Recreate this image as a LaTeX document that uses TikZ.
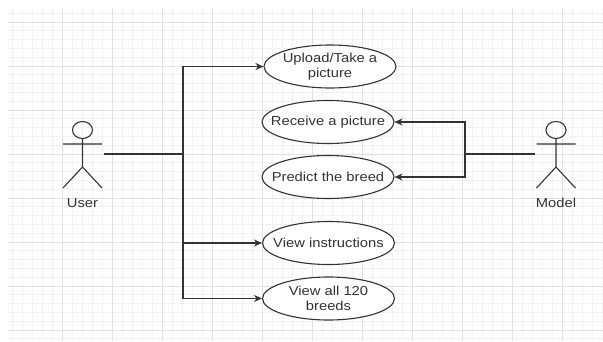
\documentclass[tikz,border=0pt]{standalone}
\usepackage{fontspec}
\setmainfont{Liberation Sans}[FakeStretch=1.136]
\usetikzlibrary{arrows.meta,shapes.geometric}
\definecolor{ink}{HTML}{333333}
\definecolor{gridmaj}{HTML}{E2E2E2}
\definecolor{gridmin}{HTML}{F3F3F3}
\begin{document}
\begin{tikzpicture}[x=1pt,y=-1pt,every node/.style={font=\fontsize{13}{15}\selectfont,text=ink},
 uc/.style={draw=ink,line width=1.1pt,ellipse,fill=white,minimum width=132pt,minimum height=43pt,inner xsep=-15pt,inner ysep=0pt,align=center},
 actor/.style={minimum width=42pt,minimum height=70pt,inner sep=0pt,
  path picture={\begin{scope}[shift={(path picture bounding box.center)},draw=ink,line width=1.1pt]
   \draw (0,-24) ellipse [x radius=10,y radius=8.5];
   \draw (0,-15.5)--(0,13) (-19.5,-10)--(19.5,-10) (-19.5,34)--(0,13)--(19.5,34);
  \end{scope}}},
 arr/.style={-{Stealth[length=8pt,width=7pt]},draw=ink,line width=1.3pt},
 ln/.style={draw=ink,line width=1.3pt}]
\useasboundingbox (0,0) rectangle (603,341);
\foreach \x in {12,22,...,602} \draw[gridmin,line width=0.8pt] (\x,8)--(\x,341);
\foreach \y in {13.2,22,...,341} \draw[gridmin,line width=0.8pt] (8,\y)--(603,\y);
\foreach \x in {62,112,...,562} \draw[gridmaj,line width=1pt] (\x,8)--(\x,341);
\foreach \y in {22,66,...,330} \draw[gridmaj,line width=1pt] (8,\y)--(603,\y);
\node[actor] (user) at (82.5,154) {};
\node (usertxt) at (82.5,203) {User};
\node[actor] (model) at (556,154) {};
\node (modeltxt) at (556,203) {Model};
\node[uc] (up) at (330,66.5) {Upload/Take a\\picture};
\node[uc] (rec) at (328,122) {Receive a picture};
\node[uc] (pred) at (328,177) {Predict the breed};
\node[uc] (inst) at (328.5,243) {View instructions};
\node[uc] (all) at (328.5,298.5) {View all 120\\breeds};
\coordinate (uj) at (183,154);
\coordinate (mj) at (465,154);
\draw[ln] (user.east)--(uj);
\draw[arr] (uj)|-(up.west);
\draw[arr] (uj)|-(inst.west);
\draw[arr] (uj)|-(all.west);
\draw[ln] (model.west)--(mj);
\draw[arr] (mj)|-(rec.east);
\draw[arr] (mj)|-(pred.east);
\end{tikzpicture}
\end{document}
